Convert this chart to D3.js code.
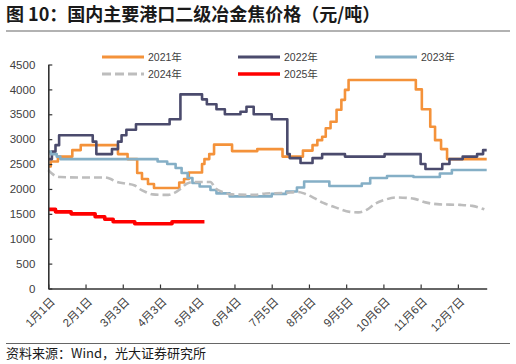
<!DOCTYPE html>
<html>
<head>
<meta charset="utf-8">
<script src="https://cdn.jsdelivr.net/npm/d3@7/dist/d3.min.js"></script>
<style>
  html, body { margin: 0; padding: 0; background: #fff; }
  svg { display: block; font-family: "Liberation Sans", Arial, "Noto Sans CJK SC", sans-serif; }
</style>
</head>
<body>
<svg id="chart" width="516" height="364"></svg>
<script>
// ---- Data (day index within year, price yuan/ton) ----
const tickDays   = [0, 31, 62, 93, 124, 155, 186, 217, 248, 279, 310, 341];
const tickLabels = ["1月1日","2月1日","3月3日","4月3日","5月4日","6月4日","7月5日","8月5日","9月5日","10月6日","11月6日","12月7日"];
const yTicks = [0, 500, 1000, 1500, 2000, 2500, 3000, 3500, 4000, 4500];

const days2021  = [0, 2, 8, 20, 27, 58, 66, 74, 78, 83, 88, 109, 113, 117, 128, 130, 134, 138, 153, 174, 195, 212, 220, 224, 228, 231, 235, 240, 244, 247, 250, 306, 311, 318, 322, 327, 332, 365];
const price2021 = [2450, 2550, 2650, 2780, 2880, 2700, 2600, 2320, 2200, 2100, 2020, 2130, 2200, 2330, 2500, 2600, 2700, 2890, 2760, 2800, 2650, 2770, 2880, 2980, 3050, 3220, 3350, 3590, 3790, 3990, 4190, 4000, 3600, 3250, 2980, 2800, 2600, 2600];

const days2022  = [0, 3, 6, 9, 37, 40, 53, 58, 61, 65, 73, 101, 110, 128, 132, 140, 147, 160, 165, 171, 186, 199, 201, 210, 220, 228, 247, 280, 310, 314, 328, 334, 345, 357, 362, 365];
const price2022 = [2600, 2750, 2880, 3080, 2950, 2700, 2800, 2950, 3080, 3190, 3300, 3400, 3900, 3800, 3700, 3600, 3500, 3550, 3650, 3500, 3400, 2700, 2620, 2520, 2620, 2700, 2650, 2700, 2500, 2400, 2500, 2600, 2650, 2700, 2780, 2780];

const days2023  = [0, 2, 7, 10, 91, 99, 106, 111, 116, 120, 126, 135, 140, 151, 186, 198, 207, 213, 234, 261, 268, 282, 304, 326, 336, 365];
const price2023 = [2750, 2700, 2650, 2600, 2550, 2500, 2420, 2320, 2220, 2120, 2050, 1980, 1910, 1850, 1900, 1950, 2030, 2150, 2060, 2110, 2220, 2260, 2240, 2310, 2380, 2380];

const days2024  = [0, 3, 6, 10, 26, 47, 52, 56, 64, 72, 76, 81, 87, 100, 105, 110, 115, 120, 135, 139, 145, 153, 172, 181, 197, 208, 214, 222, 229, 239, 251, 258, 265, 272, 280, 290, 305, 314, 326, 343, 353, 363];
const price2024 = [2380, 2310, 2260, 2240, 2230, 2230, 2200, 2150, 2110, 2070, 2000, 1940, 1890, 1880, 1920, 2000, 2100, 2140, 2140, 2020, 1940, 1890, 1880, 1910, 1920, 1940, 1900, 1810, 1720, 1630, 1540, 1530, 1580, 1700, 1780, 1830, 1800, 1730, 1690, 1680, 1660, 1590];

const days2025  = [0, 6, 19, 39, 47, 54, 72, 103, 130];
const price2025 = [1590, 1540, 1500, 1440, 1390, 1340, 1300, 1340, 1340];

const seriesNames = ["2021年", "2022年", "2023年", "2024年", "2025年"];
const seriesColors = ["#F4923A", "#4B4B6D", "#85AFC6", "#BDBDBD", "#FF0000"];

// ---- Build ----
const svg = d3.select("#chart");
const x = d3.scaleLinear().domain([0, 365]).range([48.3, 486.7]);
const y = d3.scaleLinear().domain([0, 4500]).range([288.5, 64.5]);

const series = [
  { name: seriesNames[0], days: days2021, vals: price2021, color: seriesColors[0], width: 2.6, step: true },
  { name: seriesNames[1], days: days2022, vals: price2022, color: seriesColors[1], width: 2.6, step: true },
  { name: seriesNames[2], days: days2023, vals: price2023, color: seriesColors[2], width: 2.6, step: true },
  { name: seriesNames[3], days: days2024, vals: price2024, color: seriesColors[3], width: 2.6, step: false, dash: "8,4" },
  { name: seriesNames[4], days: days2025, vals: price2025, color: seriesColors[4], width: 3.6, step: true }
];

// Title
svg.append("text").attr("x", 6).attr("y", 21)
  .attr("font-size", 18).attr("font-weight", "bold").attr("fill", "#1a1a1a")
  .style("font-family", "'Noto Sans CJK SC', sans-serif")
  .text("图 10：国内主要港口二级冶金焦价格（元/吨）");
svg.append("line").attr("x1", 6).attr("x2", 510).attr("y1", 31).attr("y2", 31)
  .attr("stroke", "#666").attr("stroke-width", 1.2);

// Lines
series.forEach(s => {
  const pts = s.days.map((d, k) => [d, s.vals[k]]);
  const gen = d3.line().x(p => x(p[0])).y(p => y(p[1]))
    .curve(s.step ? d3.curveStepAfter : d3.curveMonotoneX);
  svg.append("path").datum(pts)
    .attr("d", gen).attr("fill", "none")
    .attr("stroke", s.color).attr("stroke-width", s.width)
    .attr("stroke-linejoin", "round")
    .attr("stroke-dasharray", s.dash || null);
});

// Y axis
const yAxis = d3.axisLeft(y).tickValues(yTicks).tickFormat(d3.format("d"))
  .tickSizeInner(-4).tickSizeOuter(0).tickPadding(13);
const gy = svg.append("g").attr("transform", `translate(${x(0)},0)`).call(yAxis);
gy.select(".domain").attr("stroke", "#333").attr("stroke-width", 1.6);
gy.selectAll(".tick line").attr("stroke", "#333").attr("stroke-width", 1.2);
gy.selectAll(".tick text").attr("font-size", 11.5).attr("fill", "#404040")
  .style("font-family", "'Liberation Sans', Arial, sans-serif");

// X axis
const xAxis = d3.axisBottom(x).tickValues(tickDays).tickSizeInner(-4).tickSizeOuter(0)
  .tickFormat((d, i) => tickLabels[i]);
const gx = svg.append("g").attr("transform", `translate(0,${y(0)})`).call(xAxis);
gx.select(".domain").attr("stroke", "#333").attr("stroke-width", 1.6);
gx.selectAll(".tick line").attr("stroke", "#333").attr("stroke-width", 1.2);
gx.selectAll(".tick text")
  .attr("font-size", 11.5).attr("fill", "#404040")
  .attr("text-anchor", "end")
  .attr("dy", "0.35em")
  .attr("y", 0)
  .attr("transform", "translate(4,11) rotate(-45)")
  .style("font-family", "'Liberation Sans', Arial, 'Noto Sans CJK SC', sans-serif");

// Legend
const legendPos = [
  { lx: 102, ly: 57 }, { lx: 238, ly: 57 }, { lx: 375, ly: 57 },
  { lx: 102, ly: 74 }, { lx: 238, ly: 74 }
];
series.forEach((s, i) => {
  const p = legendPos[i];
  const g = svg.append("g");
  g.append("line").attr("x1", p.lx).attr("x2", p.lx + 42).attr("y1", p.ly).attr("y2", p.ly)
    .attr("stroke", s.color).attr("stroke-width", i === 4 ? 3.6 : 3)
    .attr("stroke-dasharray", s.dash ? "9,4" : null);
  g.append("text").attr("x", p.lx + 46).attr("y", p.ly).attr("dy", "0.35em")
    .attr("font-size", 10.5).attr("fill", "#404040")
    .text(s.name);
});

// Footer
svg.append("line").attr("x1", 6).attr("x2", 510).attr("y1", 343.5).attr("y2", 343.5)
  .attr("stroke", "#666").attr("stroke-width", 1.2);
svg.append("text").attr("x", 6).attr("y", 358)
  .attr("font-size", 13).attr("fill", "#1a1a1a")
  .style("font-family", "'Noto Sans CJK SC', sans-serif")
  .text("资料来源：Wind，光大证券研究所");
</script>
</body>
</html>
